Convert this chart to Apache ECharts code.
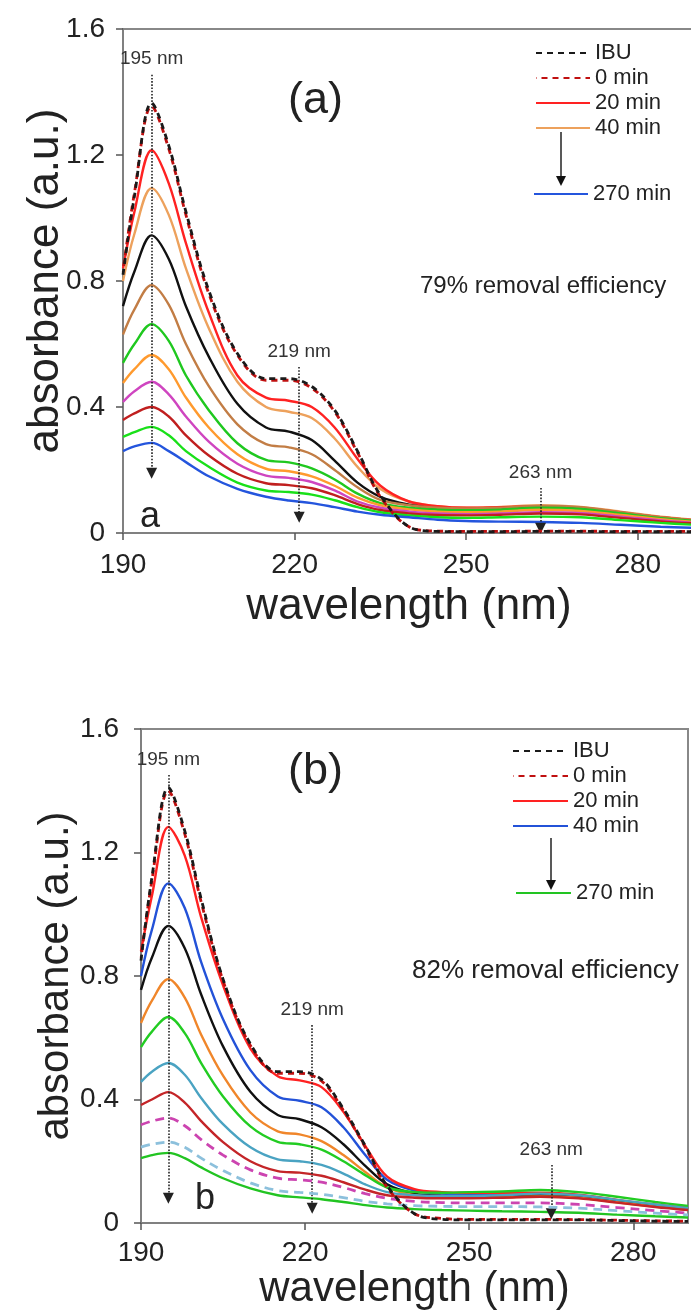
<!DOCTYPE html>
<html>
<head>
<meta charset="utf-8">
<script src="https://cdn.jsdelivr.net/npm/echarts@6/dist/echarts.min.js"></script>
<style>
  html, body { margin: 0; padding: 0; background: #fff; }
  .panel { width: 691px; height: 656px; }
</style>
</head>
<body>
<div id="panelA" class="panel"></div>
<div id="panelB" class="panel"></div>
<script>
// wavelength grid (nm), shared by all spectra
const wavelengths = [190, 192, 195, 198, 201, 205, 210, 215, 219, 223, 227, 231, 235, 240, 245, 250, 256, 263, 270, 277, 284, 290];

// ---- panel (a) absorbance ----
const a_ibu   = [0.82, 1.07, 1.365, 1.23, 1.02, 0.77, 0.57, 0.49, 0.49, 0.465, 0.39, 0.26, 0.12, 0.02, 0.005, 0.004, 0.004, 0.005, 0.005, 0.004, 0.004, 0.004];
const a_0min  = [0.83, 1.08, 1.355, 1.22, 1.01, 0.76, 0.565, 0.485, 0.485, 0.46, 0.385, 0.255, 0.115, 0.02, 0.006, 0.005, 0.005, 0.006, 0.006, 0.005, 0.005, 0.005];
const a_20min = [0.84, 1.02, 1.215, 1.11, 0.92, 0.70, 0.50, 0.43, 0.42, 0.40, 0.335, 0.235, 0.15, 0.10, 0.085, 0.08, 0.082, 0.085, 0.08, 0.065, 0.05, 0.04];
const a_40min = [0.80, 0.95, 1.095, 1.01, 0.84, 0.65, 0.48, 0.40, 0.385, 0.365, 0.30, 0.21, 0.14, 0.10, 0.085, 0.08, 0.083, 0.088, 0.083, 0.068, 0.052, 0.042];
const a_s5    = [0.72, 0.83, 0.945, 0.87, 0.72, 0.56, 0.41, 0.335, 0.322, 0.295, 0.23, 0.16, 0.115, 0.09, 0.078, 0.075, 0.078, 0.082, 0.078, 0.062, 0.047, 0.038];
const a_s6    = [0.63, 0.71, 0.787, 0.725, 0.60, 0.466, 0.345, 0.282, 0.272, 0.25, 0.20, 0.145, 0.105, 0.088, 0.08, 0.078, 0.08, 0.086, 0.082, 0.066, 0.05, 0.04];
const a_s7    = [0.54, 0.60, 0.663, 0.61, 0.50, 0.39, 0.285, 0.232, 0.224, 0.205, 0.17, 0.125, 0.095, 0.08, 0.074, 0.072, 0.074, 0.08, 0.076, 0.062, 0.047, 0.038];
const a_s8    = [0.476, 0.52, 0.565, 0.52, 0.43, 0.335, 0.25, 0.204, 0.196, 0.18, 0.15, 0.112, 0.088, 0.075, 0.068, 0.066, 0.068, 0.074, 0.07, 0.057, 0.044, 0.035];
const a_s9    = [0.416, 0.45, 0.48, 0.44, 0.37, 0.29, 0.22, 0.182, 0.175, 0.162, 0.135, 0.10, 0.08, 0.068, 0.062, 0.06, 0.062, 0.066, 0.063, 0.052, 0.04, 0.032];
const a_s10   = [0.359, 0.38, 0.40, 0.37, 0.31, 0.246, 0.188, 0.158, 0.152, 0.142, 0.12, 0.092, 0.073, 0.062, 0.057, 0.056, 0.058, 0.062, 0.059, 0.048, 0.037, 0.03];
const a_s11   = [0.305, 0.32, 0.337, 0.31, 0.26, 0.21, 0.16, 0.135, 0.13, 0.122, 0.104, 0.082, 0.066, 0.056, 0.05, 0.048, 0.05, 0.052, 0.05, 0.041, 0.032, 0.026];
const a_270min= [0.26, 0.275, 0.286, 0.26, 0.225, 0.18, 0.14, 0.115, 0.103, 0.095, 0.082, 0.068, 0.058, 0.05, 0.042, 0.038, 0.036, 0.035, 0.032, 0.026, 0.02, 0.016];

// ---- panel (b) absorbance ----
const b_ibu   = [0.85, 1.12, 1.41, 1.27, 1.05, 0.79, 0.58, 0.49, 0.49, 0.465, 0.37, 0.25, 0.12, 0.03, 0.012, 0.01, 0.01, 0.01, 0.01, 0.008, 0.006, 0.005];
const b_0min  = [0.86, 1.11, 1.40, 1.26, 1.04, 0.785, 0.575, 0.485, 0.485, 0.46, 0.365, 0.245, 0.115, 0.03, 0.015, 0.012, 0.012, 0.012, 0.011, 0.009, 0.007, 0.006];
const b_20min = [0.88, 1.06, 1.283, 1.19, 0.99, 0.77, 0.565, 0.475, 0.462, 0.44, 0.36, 0.25, 0.15, 0.11, 0.10, 0.098, 0.098, 0.098, 0.092, 0.075, 0.06, 0.05];
const b_40min = [0.80, 0.95, 1.10, 1.02, 0.845, 0.66, 0.495, 0.41, 0.396, 0.375, 0.31, 0.22, 0.14, 0.105, 0.095, 0.092, 0.093, 0.095, 0.09, 0.074, 0.058, 0.048];
const b_s5    = [0.755, 0.86, 0.962, 0.89, 0.74, 0.572, 0.425, 0.35, 0.336, 0.31, 0.255, 0.185, 0.125, 0.095, 0.088, 0.086, 0.088, 0.09, 0.086, 0.07, 0.055, 0.045];
const b_s6    = [0.648, 0.72, 0.79, 0.73, 0.61, 0.477, 0.358, 0.297, 0.287, 0.265, 0.22, 0.165, 0.115, 0.09, 0.083, 0.082, 0.083, 0.086, 0.082, 0.067, 0.053, 0.043];
const b_s7    = [0.57, 0.62, 0.667, 0.615, 0.518, 0.41, 0.313, 0.263, 0.255, 0.238, 0.20, 0.155, 0.115, 0.10, 0.098, 0.10, 0.102, 0.107, 0.10, 0.085, 0.068, 0.055];
const b_s8    = [0.457, 0.49, 0.518, 0.48, 0.405, 0.32, 0.245, 0.206, 0.20, 0.188, 0.16, 0.125, 0.10, 0.09, 0.088, 0.088, 0.09, 0.095, 0.09, 0.075, 0.06, 0.048];
const b_s9    = [0.382, 0.40, 0.424, 0.39, 0.33, 0.262, 0.20, 0.168, 0.163, 0.153, 0.132, 0.108, 0.09, 0.082, 0.08, 0.08, 0.082, 0.085, 0.08, 0.066, 0.052, 0.042];
const b_s10   = [0.318, 0.33, 0.34, 0.315, 0.27, 0.22, 0.172, 0.145, 0.14, 0.132, 0.115, 0.095, 0.08, 0.07, 0.066, 0.065, 0.065, 0.065, 0.06, 0.05, 0.04, 0.032];
const b_s11   = [0.246, 0.255, 0.262, 0.245, 0.21, 0.17, 0.13, 0.105, 0.099, 0.093, 0.082, 0.07, 0.062, 0.056, 0.054, 0.053, 0.053, 0.052, 0.048, 0.04, 0.032, 0.026];
const b_270min= [0.21, 0.22, 0.227, 0.21, 0.18, 0.145, 0.112, 0.09, 0.083, 0.077, 0.068, 0.058, 0.05, 0.045, 0.042, 0.04, 0.038, 0.036, 0.033, 0.027, 0.022, 0.018];

// peak annotations: [label, wavelength where the arrow is drawn, top, tip]
const a_peaks = [["195 nm", 195, 1.455, 0.19], ["219 nm", 220.8, 0.527, 0.05], ["263 nm", 263, 0.143, 0.015]];
const b_peaks = [["195 nm", 195, 1.451, 0.08], ["219 nm", 221.3, 0.641, 0.048], ["263 nm", 265, 0.188, 0.03]];

const FONT = "Liberation Sans, Arial, sans-serif";

function line(name, ys, color, dash, dashOffset) {
    let pts = [];
    for (let i = 0; i < wavelengths.length; i++) pts.push([wavelengths[i], ys[i]]);
    return {
        type: "line",
        name: name,
        data: pts,
        symbol: "none",
        smooth: 0.35,
        lineStyle: {
            color: color,
            width: dash ? 2.8 : 2.4,
            type: dash || "solid",
            dashOffset: dashOffset || 0,
        },
        itemStyle: { color: color },
        z: dash ? 5 : 3,
    };
}

function build(p) {
    let marks = [];
    for (let pk of p.peaks) {
        marks.push([
            { coord: [pk[1], pk[2]], label: { formatter: pk[0] } },
            { coord: [pk[1], pk[3]] },
        ]);
    }
    let series = p.series.slice();
    series.push({
        type: "line",
        name: "annotations",
        data: [],
        markLine: {
            silent: true,
            animation: false,
            symbol: ["none", "triangle"],
            symbolSize: 11,
            lineStyle: { type: "dotted", color: "#222", width: 1.6 },
            label: { show: true, position: "start", distance: 6, fontSize: 19, color: "#333", fontFamily: FONT },
            data: marks,
        },
    });
    let legendText = { fontSize: 22, color: "#222", fontFamily: FONT };
    let legendCommon = {
        orient: "vertical", itemWidth: p.legendW, itemHeight: 14, itemGap: 3,
        textStyle: legendText, selectedMode: false, itemStyle: { opacity: 0 },
    };
    return {
        animation: false,
        backgroundColor: "#fff",
        textStyle: { fontFamily: FONT },
        title: [
            { text: p.tag, left: p.tagPos[0], top: p.tagPos[1], textStyle: { fontSize: 45, fontWeight: "normal", color: "#222", fontFamily: FONT } },
            { text: p.note, left: p.notePos[0], top: p.notePos[1], textStyle: { fontSize: p.noteSize, fontWeight: "normal", color: "#222", fontFamily: FONT } },
            { text: p.letter, left: p.letterPos[0], top: p.letterPos[1], textStyle: { fontSize: 36, fontWeight: "normal", color: "#222", fontFamily: FONT } },
        ],
        legend: [
            Object.assign({ data: p.legendNames, left: p.legendLeft, top: p.legendTop0 }, legendCommon),
            Object.assign({ data: [p.lastName], left: p.legendLeft2, top: p.legendTop1 }, legendCommon),
        ],
        graphic: [
            { type: "line", shape: { x1: p.arrowX, y1: p.arrowY[0], x2: p.arrowX, y2: p.arrowY[1] - 8 }, style: { stroke: "#222", lineWidth: 1.5 } },
            { type: "polygon", shape: { points: [[p.arrowX - 5, p.arrowY[1] - 10], [p.arrowX + 5, p.arrowY[1] - 10], [p.arrowX, p.arrowY[1]]] }, style: { fill: "#111" } },
        ],
        grid: {
            left: p.grid[0], top: p.grid[1], width: p.grid[2], height: p.grid[3],
            show: true, borderColor: "#888", borderWidth: 2, backgroundColor: "transparent",
            outerBoundsMode: "none",
        },
        xAxis: {
            type: "value", min: 190, max: 290, interval: 30,
            name: "wavelength (nm)", nameLocation: "middle", nameGap: p.xNameGap, nameMoveOverlap: false,
            nameTextStyle: { fontSize: p.nameSize, color: "#222", fontFamily: FONT },
            axisLine: { lineStyle: { color: "#808080", width: 2 } },
            axisTick: { length: 7, lineStyle: { color: "#555", width: 1.5 } },
            axisLabel: { fontSize: 28, color: "#222", margin: p.xLabelMargin, showMaxLabel: false, fontFamily: FONT },
            splitLine: { show: false },
        },
        yAxis: {
            type: "value", min: 0, max: 1.6, interval: 0.4,
            name: "absorbance (a.u.)", nameLocation: "middle", nameGap: p.yNameGap, nameRotate: 90, nameMoveOverlap: false,
            nameTextStyle: { fontSize: p.nameSize, color: "#222", fontFamily: FONT },
            axisLine: { show: true, lineStyle: { color: "#808080", width: 2 } },
            axisTick: { show: true, length: 7, lineStyle: { color: "#555", width: 1.5 } },
            axisLabel: { fontSize: 28, color: "#222", margin: p.yLabelMargin, fontFamily: FONT },
            splitLine: { show: false },
        },
        series: series,
    };
}

const optA = build({
    series: [
        line("40 min", a_40min, "#eda15c"),
        line("20 min", a_20min, "#ff2222"),
        line("curve 5", a_s5, "#111111"),
        line("curve 6", a_s6, "#c27d45"),
        line("curve 7", a_s7, "#1fc81f"),
        line("curve 8", a_s8, "#ff9a2e"),
        line("curve 9", a_s9, "#cf45c0"),
        line("curve 10", a_s10, "#c01f1f"),
        line("curve 11", a_s11, "#19e019"),
        line("270 min", a_270min, "#2455dd"),
        line("0 min", a_0min, "#c01010", [6, 5], 5.5),
        line("IBU", a_ibu, "#1a1a1a", [6, 5], 0),
    ],
    peaks: a_peaks,
    tag: "(a)", tagPos: [283, 73],
    note: "79% removal efficiency", notePos: [415, 269], noteSize: 24,
    letter: "a", letterPos: [135, 494],
    legendNames: ["IBU", "0 min", "20 min", "40 min"], legendLeft: 530, legendTop0: 37, legendW: 54,
    lastName: "270 min", legendLeft2: 528, legendTop1: 178,
    arrowX: 561, arrowY: [132, 186],
    grid: [123, 29, 572, 504],
    nameSize: 44,
    xNameGap: 52, xLabelMargin: 18, yNameGap: 55, yLabelMargin: 18,
});

const optB = build({
    series: [
        line("40 min", b_40min, "#2352d8"),
        line("20 min", b_20min, "#ff2222"),
        line("curve 5", b_s5, "#111111"),
        line("curve 6", b_s6, "#f0862a"),
        line("curve 7", b_s7, "#22cc22"),
        line("curve 8", b_s8, "#4aa3c2"),
        line("curve 9", b_s9, "#c42528"),
        line("curve 10", b_s10, "#cc44b0", [9, 6]),
        line("curve 11", b_s11, "#8cc0dc", [9, 6]),
        line("270 min", b_270min, "#22c422"),
        line("0 min", b_0min, "#c01010", [6, 5], 5.5),
        line("IBU", b_ibu, "#1a1a1a", [6, 5], 0),
    ],
    peaks: b_peaks,
    tag: "(b)", tagPos: [283, 88],
    note: "82% removal efficiency", notePos: [407, 297], noteSize: 26,
    letter: "b", letterPos: [190, 520],
    legendNames: ["IBU", "0 min", "20 min", "40 min"], legendLeft: 507, legendTop0: 79, legendW: 55,
    lastName: "270 min", legendLeft2: 510, legendTop1: 221,
    arrowX: 551, arrowY: [182, 234],
    grid: [141, 73, 547, 494],
    nameSize: 42,
    xNameGap: 45, xLabelMargin: 16, yNameGap: 64, yLabelMargin: 22,
});

echarts.init(document.getElementById("panelA")).setOption(optA);
echarts.init(document.getElementById("panelB")).setOption(optB);
</script>
</body>
</html>
